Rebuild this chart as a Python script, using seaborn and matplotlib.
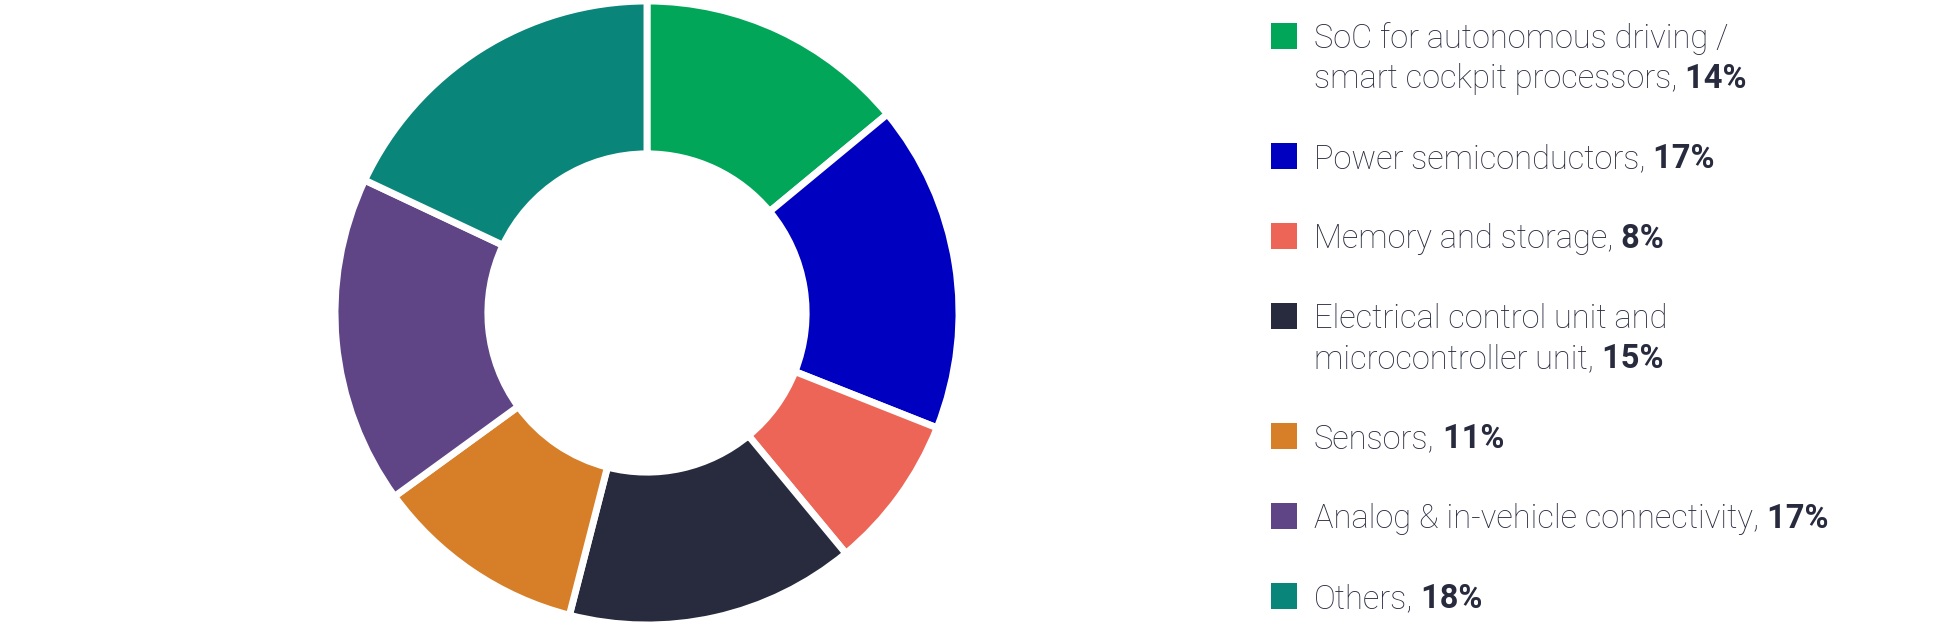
import matplotlib
matplotlib.use('Agg')
import matplotlib.pyplot as plt
import seaborn as sns
from matplotlib.patches import Rectangle

# 数据
labels = [
    'SoC for autonomous driving /\nsmart cockpit processors,',
    'Power semiconductors,',
    'Memory and storage,',
    'Electrical control unit and\nmicrocontroller unit,',
    'Sensors,',
    'Analog & in-vehicle connectivity,',
    'Others,',
]
shares = [14, 17, 8, 15, 11, 17, 18]
colors = ['#02A659', '#0000C0', '#EC6556', '#282B3E', '#D77E28', '#5F4585', '#0A857A']
text_color = '#282B3E'

sns.set_theme(style='white')
plt.rcParams['font.family'] = ['Roboto', 'DejaVu Sans']

W, H = 1938, 625
fig = plt.figure(figsize=(W / 100, H / 100), dpi=100)

# 环形图
cx, cy, r = 647, 313, 312
ax = fig.add_axes([(cx - r) / W, (H - cy - r) / H, 2 * r / W, 2 * r / H])
ax.pie(shares, colors=colors, startangle=90, counterclock=False,
       radius=1, wedgeprops=dict(width=0.49, edgecolor='white', linewidth=5))
ax.set_xlim(-1, 1)
ax.set_ylim(-1, 1)
ax.set_aspect('equal')
ax.axis('off')

# 图例（像素坐标）
lax = fig.add_axes([0, 0, 1, 1])
lax.set_xlim(0, W)
lax.set_ylim(H, 0)
lax.axis('off')

fs = 23.5
y = 48
for lab, val, col in zip(labels, shares, colors):
    lines = lab.split('\n')
    lax.add_patch(Rectangle((1271, y - 25), 26, 26, facecolor=col, edgecolor='none'))
    for i, line in enumerate(lines):
        t = lax.text(1314, y, line, fontsize=fs, fontweight='light', color=text_color,
                     va='baseline', ha='left')
        if i == len(lines) - 1:
            lax.annotate(f' {val}%', xy=(1, 0), xycoords=t, va='bottom', ha='left',
                         fontsize=fs, fontweight='bold', color=text_color)
        y += 40
    y += 40

fig.savefig('out.png', dpi=100, facecolor='white')
